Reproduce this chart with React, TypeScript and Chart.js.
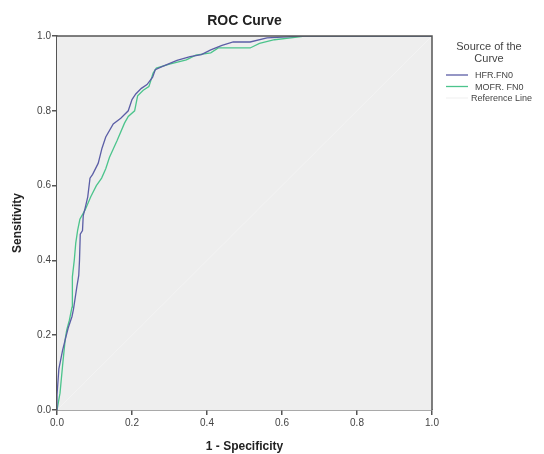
import React, { useEffect, useRef } from "react";
import { Chart, registerables } from "chart.js";

Chart.register(...registerables);

const chartTitle = "ROC Curve";
const xAxisTitle = "1 - Specificity";
const yAxisTitle = "Sensitivity";
const legendTitle = ["Source of the", "Curve"];
const seriesLabels = ["HFR.FN0", "MOFR. FN0", "Reference Line"];
const seriesColors = ["#5b5ea6", "#4cc48c", "#f3f3f3"];
const tickValues = [0, 0.2, 0.4, 0.6, 0.8, 1.0];

const hfrFpr = [0, 0, 0.005, 0.015, 0.025, 0.03, 0.04, 0.044, 0.05, 0.053, 0.058, 0.06, 0.062, 0.068, 0.07, 0.075, 0.082, 0.088, 0.095, 0.11, 0.12, 0.13, 0.15, 0.17, 0.19, 0.2, 0.21, 0.225, 0.24, 0.255, 0.262, 0.28, 0.32, 0.355, 0.385, 0.41, 0.44, 0.47, 0.515, 0.56, 0.6, 0.65, 1];
const hfrTpr = [0, 0.04, 0.11, 0.16, 0.2, 0.22, 0.25, 0.27, 0.31, 0.33, 0.36, 0.4, 0.47, 0.48, 0.52, 0.54, 0.57, 0.62, 0.63, 0.66, 0.7, 0.73, 0.765, 0.78, 0.8, 0.83, 0.845, 0.86, 0.87, 0.89, 0.91, 0.918, 0.935, 0.945, 0.95, 0.963, 0.975, 0.984, 0.984, 0.995, 0.997, 1, 1];

const mofrFpr = [0, 0.008, 0.015, 0.022, 0.026, 0.033, 0.04, 0.041, 0.046, 0.05, 0.055, 0.061, 0.075, 0.09, 0.105, 0.119, 0.13, 0.14, 0.16, 0.18, 0.19, 0.207, 0.215, 0.23, 0.245, 0.25, 0.256, 0.265, 0.3, 0.345, 0.37, 0.41, 0.43, 0.515, 0.54, 0.58, 0.64, 0.66, 1];
const mofrTpr = [0, 0.045, 0.12, 0.19, 0.214, 0.24, 0.275, 0.356, 0.4, 0.446, 0.48, 0.51, 0.535, 0.57, 0.6, 0.62, 0.645, 0.676, 0.72, 0.767, 0.785, 0.8, 0.84, 0.855, 0.865, 0.88, 0.9, 0.914, 0.925, 0.936, 0.949, 0.955, 0.968, 0.968, 0.98, 0.99, 0.997, 1, 1];

const refFpr = [0, 1];
const refTpr = [0, 1];

const toPoints = (xs: number[], ys: number[]) => xs.map((x, i) => ({ x, y: ys[i] }));

const FONT = "'Liberation Sans', Arial, sans-serif";

const decorPlugin = {
  id: "decor",
  beforeDatasetsDraw(chart: any) {
    const { ctx, chartArea: a } = chart;
    ctx.save();
    ctx.fillStyle = "#eeeeee";
    ctx.fillRect(a.left, a.top, a.right - a.left, a.bottom - a.top);
    ctx.restore();
  },
  afterDraw(chart: any) {
    const { ctx, chartArea: a } = chart;
    ctx.save();
    // frame top & right
    ctx.strokeStyle = "#555555";
    ctx.lineWidth = 1.5;
    ctx.beginPath();
    ctx.moveTo(a.left, a.top);
    ctx.lineTo(a.right, a.top);
    ctx.lineTo(a.right, a.bottom);
    ctx.stroke();
    // title
    ctx.fillStyle = "#222222";
    ctx.font = `bold 14px ${FONT}`;
    ctx.textAlign = "center";
    ctx.textBaseline = "middle";
    ctx.fillText(chartTitle, (a.left + a.right) / 2, 21);
    // legend
    ctx.fillStyle = "#444444";
    ctx.font = `11px ${FONT}`;
    legendTitle.forEach((t, i) => ctx.fillText(t, 489, 47 + i * 12));
    ctx.font = `9px ${FONT}`;
    ctx.textAlign = "left";
    chart.data.datasets.forEach((ds: any, i: number) => {
      const y = 75 + i * 11.5;
      ctx.strokeStyle = ds.borderColor;
      ctx.lineWidth = 1.3;
      ctx.beginPath();
      ctx.moveTo(446, y);
      ctx.lineTo(468, y);
      ctx.stroke();
      ctx.fillStyle = "#444444";
      ctx.fillText(ds.label, i === 2 ? 471 : 475, y + 1);
    });
    ctx.restore();
  },
};

export default function App() {
  const ref = useRef<HTMLCanvasElement>(null);
  useEffect(() => {
    document.body.style.margin = "0";
    const axisCommon = {
      type: "linear" as const,
      min: 0,
      max: 1,
      border: { display: true, color: "#555555", width: 1.5 },
      grid: { drawOnChartArea: false, drawTicks: true, tickLength: 5, color: "#555555", lineWidth: 1.5 },
    };
    const chart = new Chart(ref.current!, {
      type: "line",
      data: {
        datasets: [
          { label: seriesLabels[0], data: toPoints(hfrFpr, hfrTpr), borderColor: seriesColors[0], borderWidth: 1.3, pointRadius: 0, fill: false, tension: 0 },
          { label: seriesLabels[1], data: toPoints(mofrFpr, mofrTpr), borderColor: seriesColors[1], borderWidth: 1.3, pointRadius: 0, fill: false, tension: 0 },
          { label: seriesLabels[2], data: toPoints(refFpr, refTpr), borderColor: seriesColors[2], borderWidth: 1, pointRadius: 0, fill: false, tension: 0 },
        ],
      },
      options: {
        animation: false,
        responsive: false,
        devicePixelRatio: 1,
        layout: { padding: { left: 0, right: 112, top: 36, bottom: 0 } },
        plugins: { legend: { display: false }, title: { display: false }, tooltip: { enabled: false } },
        scales: {
          x: {
            ...axisCommon,
            afterBuildTicks: (s: any) => { s.ticks = tickValues.map((v) => ({ value: v })); },
            afterFit: (s: any) => { s.height = 44; },
            ticks: { color: "#444444", font: { family: FONT, size: 10 }, padding: 2, maxRotation: 0, callback: (v: any) => Number(v).toFixed(1) },
            title: { display: true, text: xAxisTitle, color: "#222222", font: { family: FONT, size: 12, weight: "bold" }, padding: { top: 4, bottom: 0 } },
          },
          y: {
            ...axisCommon,
            afterBuildTicks: (s: any) => { s.ticks = tickValues.map((v) => ({ value: v })); },
            afterFit: (s: any) => { s.width = 57; },
            ticks: { color: "#444444", font: { family: FONT, size: 10 }, padding: 1, callback: (v: any) => Number(v).toFixed(1) },
            title: { display: true, text: yAxisTitle, color: "#222222", font: { family: FONT, size: 12, weight: "bold" }, padding: { top: 10, bottom: 0 } },
          },
        },
      },
      plugins: [decorPlugin],
    });
    return () => chart.destroy();
  }, []);
  return (
    <div style={{ width: 544, height: 454, background: "#ffffff" }}>
      <canvas ref={ref} width={544} height={454} style={{ display: "block" }} />
    </div>
  );
}
